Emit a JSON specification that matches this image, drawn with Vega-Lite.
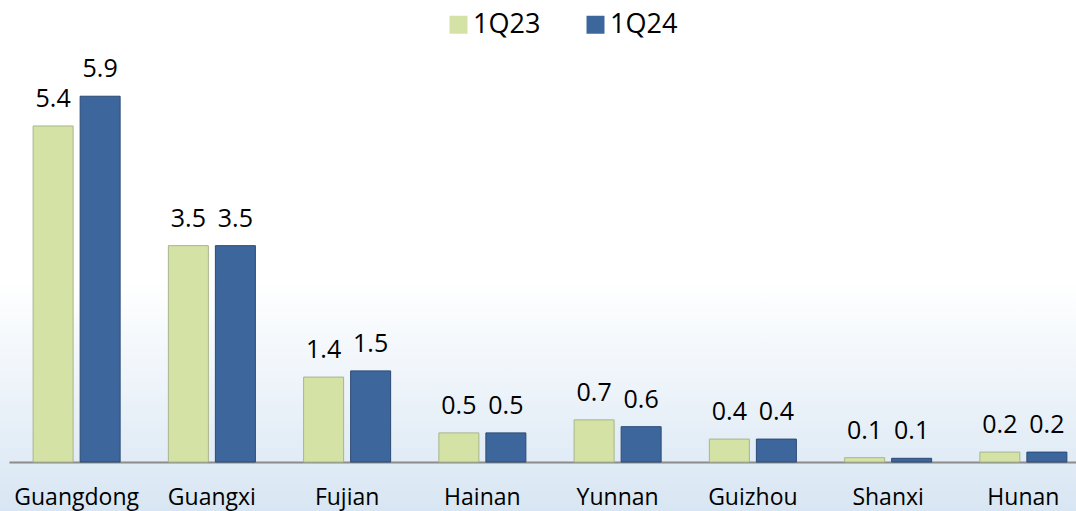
{
  "$schema": "https://vega.github.io/schema/vega-lite/v6.json",
  "autosize": {"type": "none"},
  "padding": 0,
  "width": 1076,
  "height": 511,
  "background": "#ffffff",
  "config": {
    "font": "Open Sans",
    "view": {
      "stroke": null,
      "fill": {
        "gradient": "linear",
        "x1": 0, "y1": 0, "x2": 0, "y2": 1,
        "stops": [
          {"offset": 0, "color": "#ffffff"},
          {"offset": 0.55, "color": "#ffffff"},
          {"offset": 1, "color": "#d8e6f3"}
        ]
      }
    },
    "legend": {
      "orient": "none",
      "legendX": 445,
      "legendY": 11,
      "direction": "horizontal",
      "padding": 0,
      "symbolType": "square",
      "symbolSize": 324,
      "symbolStrokeWidth": 0,
      "labelFontSize": 27,
      "labelColor": "#000000",
      "labelOffset": 1,
      "columnPadding": 41
    }
  },
  "data": {
    "values": [
      {"region": "Guangdong", "period": "1Q23", "value": 5.42},
      {"region": "Guangdong", "period": "1Q24", "value": 5.9},
      {"region": "Guangxi", "period": "1Q23", "value": 3.49},
      {"region": "Guangxi", "period": "1Q24", "value": 3.49},
      {"region": "Fujian", "period": "1Q23", "value": 1.37},
      {"region": "Fujian", "period": "1Q24", "value": 1.47},
      {"region": "Hainan", "period": "1Q23", "value": 0.47},
      {"region": "Hainan", "period": "1Q24", "value": 0.47},
      {"region": "Yunnan", "period": "1Q23", "value": 0.68},
      {"region": "Yunnan", "period": "1Q24", "value": 0.57},
      {"region": "Guizhou", "period": "1Q23", "value": 0.37},
      {"region": "Guizhou", "period": "1Q24", "value": 0.37},
      {"region": "Shanxi", "period": "1Q23", "value": 0.07},
      {"region": "Shanxi", "period": "1Q24", "value": 0.06},
      {"region": "Hunan", "period": "1Q23", "value": 0.16},
      {"region": "Hunan", "period": "1Q24", "value": 0.16}
    ]
  },
  "encoding": {
    "x": {
      "field": "region",
      "type": "nominal",
      "sort": null,
      "scale": {"range": [9, 1091], "paddingInner": 0, "paddingOuter": 0},
      "axis": {
        "title": null,
        "orient": "bottom",
        "offset": -49,
        "ticks": false,
        "tickSize": 0,
        "labelAngle": 0,
        "labelFontSize": 23,
        "labelColor": "#000000",
        "labelBaseline": "alphabetic",
        "labelPadding": 42,
        "domainColor": "#8c8c8c",
        "domainWidth": 2,
        "grid": false
      }
    },
    "xOffset": {
      "field": "period",
      "type": "nominal",
      "scale": {"paddingInner": 0.149, "paddingOuter": 0.513}
    },
    "y": {
      "field": "value",
      "type": "quantitative",
      "scale": {"domain": [-0.79, 7.452], "nice": false, "zero": false},
      "axis": null
    }
  },
  "layer": [
    {
      "mark": {"type": "bar", "strokeWidth": 1},
      "encoding": {
        "color": {
          "field": "period",
          "type": "nominal",
          "scale": {"domain": ["1Q23", "1Q24"], "range": ["#d4e2a5", "#3d679c"]},
          "legend": {"title": null}
        },
        "stroke": {
          "field": "period",
          "type": "nominal",
          "scale": {"domain": ["1Q23", "1Q24"], "range": ["#a9b48c", "#2b4a74"]},
          "legend": null
        }
      }
    },
    {
      "mark": {"type": "text", "baseline": "alphabetic", "dy": -19, "fontSize": 25, "color": "#000000"},
      "encoding": {
        "text": {"field": "value", "type": "quantitative", "format": ".1f"}
      }
    }
  ]
}
